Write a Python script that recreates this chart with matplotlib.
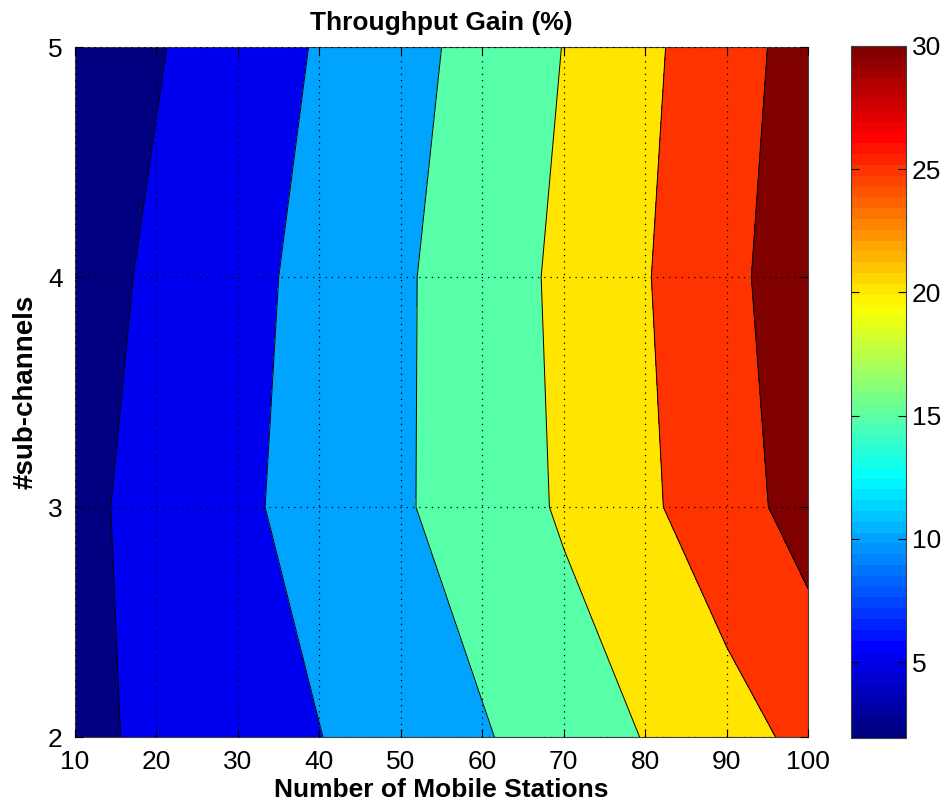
#!/usr/bin/env python3
import numpy as np
import matplotlib
matplotlib.use('Agg')
import matplotlib.pyplot as plt
from matplotlib import colors as mcolors
from matplotlib import cm

# number of mobile stations (columns) and sub-channels (rows)
mobile_stations = [10, 20, 30, 40, 50, 60, 70, 80, 90, 100]
sub_channels = [2, 3, 4, 5]

# throughput gain (%), one row per sub-channel count
gain_2 = [3.6, 6.1, 8.0, 9.9, 12.2, 14.6, 17.3, 20.2, 23.2, 26.2]
gain_3 = [3.2, 7.3, 9.2, 11.6, 14.5, 17.2, 20.6, 24.2, 27.8, 32.1]
gain_4 = [3.0, 5.8, 8.6, 11.4, 14.4, 17.4, 21.0, 24.7, 28.7, 33.0]
gain_5 = [2.5, 4.65, 7.4, 10.4, 13.4, 16.6, 20.1, 24.0, 28.0, 32.0]

contour_levels = [5, 10, 15, 20, 25, 30]
color_range = (1.92, 30)        # colour axis shown by the colorbar
cbar_ticks = [5, 10, 15, 20, 25, 30]

plt.rcParams['font.family'] = ['Liberation Sans', 'DejaVu Sans']


def matlab_jet(n=64):
	"""
	jet as matlab defines it (differs slightly from matplotlib's)
	"""
	seg = {
		'red':   [(0, 0, 0), (3/8, 0, 0), (5/8, 1, 1), (7/8, 1, 1), (1, 0.5, 0.5)],
		'green': [(0, 0, 0), (1/8, 0, 0), (3/8, 1, 1), (5/8, 1, 1), (7/8, 0, 0), (1, 0, 0)],
		'blue':  [(0, 0.5, 0.5), (1/8, 1, 1), (3/8, 1, 1), (5/8, 0, 0), (1, 0, 0)],
	}
	return mcolors.LinearSegmentedColormap('mjet', seg, N=n)


def main():
	X, Y = np.meshgrid(mobile_stations, sub_channels)
	Z = np.array([gain_2, gain_3, gain_4, gain_5])

	jet = matlab_jet(64)
	norm = mcolors.Normalize(vmin=color_range[0], vmax=color_range[1])

	# matlab style: each band takes the colour of its lower level
	lower = [color_range[0]] + contour_levels
	band_colors = [jet(norm(v)) for v in lower]
	levels = [Z.min() - 1] + contour_levels + [Z.max() + 1]

	fig = plt.figure(figsize=(9.46, 8.07), dpi=100)
	ax = fig.add_axes([0.0793, 0.0867, 0.775, 0.855])
	ax.contourf(X, Y, Z, levels=levels, colors=band_colors)
	ax.contour(X, Y, Z, levels=contour_levels, colors='k', linewidths=0.7)

	ax.set_xlim(10, 100)
	ax.set_ylim(2, 5)
	ax.set_xticks(mobile_stations)
	ax.set_yticks(sub_channels)
	ax.grid(True, color='k', linestyle=(0, (1, 4)), linewidth=0.9)
	ax.set_axisbelow(False)
	ax.tick_params(direction='in', top=True, right=True, labelsize=19, length=6, pad=9)
	for s in ax.spines.values():
		s.set_color('#404040')

	ax.set_title('Throughput Gain (%)', fontsize=19, fontweight='bold', pad=12)
	ax.set_xlabel('Number of Mobile Stations', fontsize=19, fontweight='bold', labelpad=3)
	ax.set_ylabel('#sub-channels', fontsize=20, fontweight='bold', labelpad=7)

	cax = fig.add_axes([0.900, 0.0855, 0.058, 0.8575])
	sm = cm.ScalarMappable(norm=norm, cmap=jet)
	cb = fig.colorbar(sm, cax=cax, ticks=cbar_ticks)
	cb.outline.set_edgecolor('#404040')
	cax.tick_params(direction='in', left=True, right=True, labelsize=19, length=6, pad=4)

	fig.savefig('out.png', dpi=100)


if __name__ == '__main__':
	main()
